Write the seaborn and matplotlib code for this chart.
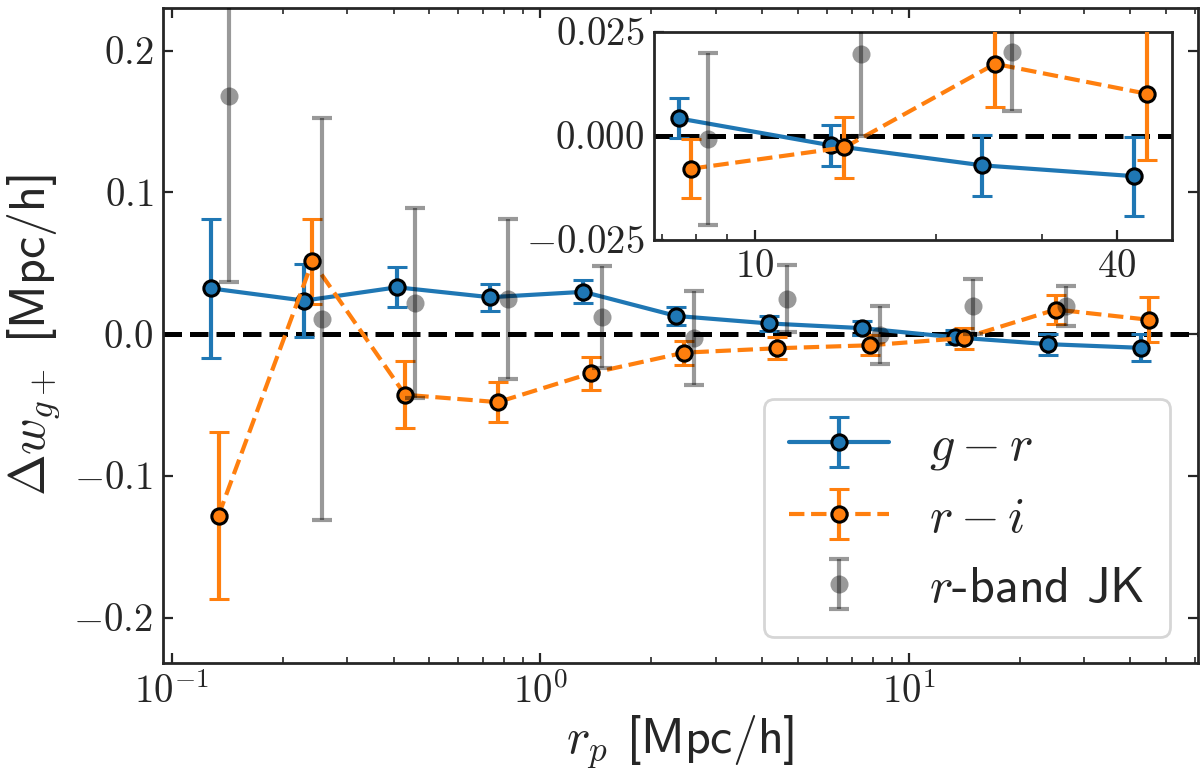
import numpy as np
import matplotlib
matplotlib.use('Agg')
import matplotlib.pyplot as plt
import seaborn as sns
from matplotlib.ticker import FuncFormatter, NullFormatter, FixedLocator

# values
rp_gr = [0.128, 0.229, 0.409, 0.731, 1.31, 2.34, 4.18, 7.47, 13.4, 23.9, 42.7]
dw_gr = [0.0322, 0.0236, 0.0330, 0.0260, 0.0298, 0.0128, 0.0075, 0.0042, -0.0023, -0.0071, -0.0097]
err_gr = [0.0490, 0.0256, 0.0140, 0.0096, 0.0080, 0.0062, 0.0054, 0.0048, 0.0049, 0.0074, 0.0095]

rp_ri = [0.134, 0.241, 0.430, 0.768, 1.37, 2.46, 4.39, 7.85, 14.1, 25.1, 44.9]
dw_ri = [-0.128, 0.0513, -0.0428, -0.0480, -0.0277, -0.0131, -0.0100, -0.0079, -0.0028, 0.0173, 0.0101]
err_ri = [0.0587, 0.0300, 0.0236, 0.0140, 0.0117, 0.0085, 0.0077, 0.0071, 0.0074, 0.0103, 0.0160]

rp_jk = [0.143, 0.256, 0.458, 0.819, 1.47, 2.62, 4.68, 8.37, 15.0, 26.8, 47.8]
dw_jk = [0.1676, 0.0106, 0.0221, 0.0248, 0.0121, -0.0026, 0.0248, -0.0008, 0.0196, 0.0201, np.nan]
err_jk = [0.1310, 0.1416, 0.0670, 0.0565, 0.0360, 0.0330, 0.0236, 0.0206, 0.0196, 0.0141, np.nan]

labels = [r'$g-r$', r'$r-i$', r'$r$-band JK']
inset_start = 7  # inset shows only the large-scale bins

sns.set_style('ticks')
plt.rcParams['font.family'] = ['cmss10', 'DejaVu Sans']
plt.rcParams['mathtext.fontset'] = 'cm'
plt.rcParams['axes.unicode_minus'] = False
plt.rcParams['axes.linewidth'] = 1.0

pal = sns.color_palette('tab10')


def draw(ax, start=0):
    s = slice(start, None)
    ax.axhline(0, color='k', ls='--', lw=1.8, zorder=1)
    ax.errorbar(rp_gr[s], dw_gr[s], yerr=err_gr[s], fmt='o-', color=pal[0], mec='k', ms=5.5,
                mew=1.1, lw=1.5, capsize=3.5, capthick=1.5, label=labels[0], zorder=3)
    ax.errorbar(rp_ri[s], dw_ri[s], yerr=err_ri[s], fmt='o--', color=pal[1], mec='k', ms=5.5,
                mew=1.1, lw=1.5, capsize=3.5, capthick=1.5, label=labels[1], zorder=3)
    ax.errorbar(rp_jk[s], dw_jk[s], yerr=err_jk[s], fmt='o', color='k', mec='none', alpha=0.4,
                ms=6.5, lw=1.5, capsize=3.5, capthick=1.5, label=labels[2], zorder=4)
    ax.set_xscale('log')


fig = plt.figure(figsize=(6, 3.88), dpi=200)
ax = fig.add_axes([0.1358, 0.1456, 0.8625, 0.8441])
draw(ax)
ax.set_xlim(0.0947, 61)
ax.set_ylim(-0.232, 0.230)
ax.set_yticks([-0.2, -0.1, 0.0, 0.1, 0.2])
ax.yaxis.set_major_formatter(FuncFormatter(lambda v, p: r'$%.1f$' % v))
ax.xaxis.set_major_formatter(FuncFormatter(lambda v, p: r'$10^{%d}$' % round(np.log10(v))))
ax.xaxis.set_minor_formatter(NullFormatter())
ax.tick_params(which='both', direction='in', top=True, right=True, labelsize=14)
ax.set_xlabel(r'$r_p$ [Mpc/h]', fontsize=18, labelpad=1)
ax.set_ylabel(r'$\Delta w_{g+}$ [Mpc/h]', fontsize=18)
ax.legend(loc='lower right', bbox_to_anchor=(0.973, 0.040), borderaxespad=0,
          fontsize=18, fancybox=True, borderpad=0.5)

axins = fig.add_axes([0.545, 0.691, 0.432, 0.268])
axins.set_facecolor('white')
draw(axins, inset_start)
axins.set_xlim(6.8, 49.5)
axins.set_ylim(-0.025, 0.025)
axins.set_yticks([-0.025, 0.0, 0.025])
axins.yaxis.set_major_formatter(FuncFormatter(lambda v, p: r'$%.3f$' % v))
axins.xaxis.set_major_locator(FixedLocator([10, 40]))
axins.xaxis.set_major_formatter(FuncFormatter(lambda v, p: r'$%d$' % round(v)))
axins.xaxis.set_minor_formatter(NullFormatter())
axins.tick_params(which='both', direction='in', labelsize=14)
for sp in axins.spines.values():
    sp.set_linewidth(1.0)

fig.savefig('out.png', dpi=200)
